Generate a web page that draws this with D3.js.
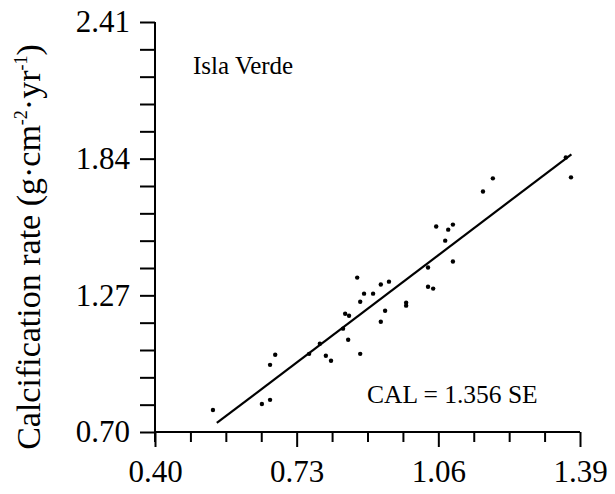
<!DOCTYPE html>
<html>
<head>
<meta charset="utf-8">
<script src="https://cdn.jsdelivr.net/npm/d3@7"></script>
<style>
  body { margin: 0; background: #fff; }
  svg { display: block; }
  text { font-family: "Liberation Serif", "Times New Roman", serif; fill: #000; }
</style>
</head>
<body>
<div id="container"></div>
<script>
/* DATA */
const seX = [0.535, 0.649, 0.668, 0.668, 0.680, 0.759, 0.784, 0.798, 0.810, 0.838,
  0.843, 0.852, 0.850, 0.871, 0.878, 0.878, 0.887, 0.908, 0.926, 0.945,
  0.926, 0.936, 0.985, 0.985, 1.036, 1.036, 1.048, 1.055, 1.083, 1.094,
  1.076, 1.094, 1.164, 1.187, 1.357, 1.369]
const calY = [0.792, 0.817, 0.834, 0.980, 1.022, 1.026, 1.068, 1.018, 0.997, 1.131,
  1.193, 1.185, 1.085, 1.344, 1.243, 1.026, 1.277, 1.277, 1.315, 1.327,
  1.160, 1.206, 1.239, 1.227, 1.386, 1.306, 1.298, 1.557, 1.544, 1.565,
  1.498, 1.411, 1.703, 1.758, 1.845, 1.762]
const xLabels = [0.40, 0.73, 1.06, 1.39]
const yLabels = [0.70, 1.27, 1.84, 2.41]
const slope = 1.356
const fitRange = [0.544, 1.37]
const site = "Isla Verde"

const width = 615, height = 494
const margin = {left: 155, right: 35, top: 22, bottom: 62}

const svg = d3.select("#container")
  .append("svg")
  .attr("width", width)
  .attr("height", height)

const x = d3.scaleLinear()
  .domain([xLabels[0], xLabels[xLabels.length - 1]])
  .range([margin.left, width - margin.right])

const y = d3.scaleLinear()
  .domain([yLabels[0], yLabels[yLabels.length - 1]])
  .range([height - margin.bottom, margin.top])

// 4 minor ticks between labelled ones
const xTicks = d3.range(13).map(i => xLabels[0] + i * (xLabels[1] - xLabels[0]) / 4)
const yTicks = d3.range(16).map(i => yLabels[0] + i * (yLabels[1] - yLabels[0]) / 5)

const isMajor = (v, labels) => labels.some(l => Math.abs(l - v) < 1e-6)

// x axis
const xAxis = svg.append("g")
  .attr("transform", `translate(0,${y(yLabels[0])})`)
  .call(d3.axisBottom(x)
    .tickValues(xTicks)
    .tickSize(10)
    .tickFormat(d => isMajor(d, xLabels) ? d3.format(".2f")(d) : ""))
xAxis.selectAll(".tick line")
  .attr("y2", d => isMajor(d, xLabels) ? 15 : 10)
xAxis.selectAll(".tick text")
  .attr("y", 28)
  .attr("font-size", 31)
  .attr("font-family", "Liberation Serif")

// y axis
const yAxis = svg.append("g")
  .attr("transform", `translate(${x(xLabels[0])},0)`)
  .call(d3.axisLeft(y)
    .tickValues(yTicks)
    .tickSize(15)
    .tickFormat(d => isMajor(d, yLabels) ? d3.format(".2f")(d) : ""))
yAxis.selectAll(".tick text")
  .attr("x", -25)
  .attr("font-size", 31)
  .attr("font-family", "Liberation Serif")

svg.selectAll(".domain").attr("stroke-width", 2).attr("stroke", "#000")
svg.selectAll(".tick line").attr("stroke-width", 2).attr("stroke", "#000")
xAxis.select(".domain").attr("d", `M${x.range()[0]},0H${x.range()[1]}`)
yAxis.select(".domain").attr("d", `M0,${y.range()[0] + 10}V${y.range()[1]}`)

// regression line
svg.append("line")
  .attr("x1", x(fitRange[0]))
  .attr("y1", y(slope * fitRange[0]))
  .attr("x2", x(fitRange[1]))
  .attr("y2", y(slope * fitRange[1]))
  .attr("stroke", "#000")
  .attr("stroke-width", 2.2)

// points
svg.selectAll(".pt")
  .data(seX.map((v, i) => [v, calY[i]]))
  .join("circle")
  .attr("class", "pt")
  .attr("cx", d => x(d[0]))
  .attr("cy", d => y(d[1]))
  .attr("r", 2.2)
  .attr("fill", "#000")

// annotations
svg.append("text")
  .attr("x", 193)
  .attr("y", 74)
  .attr("font-size", 25)
  .text(site)

svg.append("text")
  .attr("x", 367)
  .attr("y", 403)
  .attr("font-size", 25.5)
  .text(`CAL = ${slope} SE`)

// y title
const yTitle = svg.append("text")
  .attr("transform", "translate(40,247) rotate(-90)")
  .attr("text-anchor", "middle")
  .attr("font-size", 34)
yTitle.append("tspan").text("Calcification rate (g·cm")
yTitle.append("tspan").attr("font-size", 18).attr("dy", -13).text("-2")
yTitle.append("tspan").attr("dy", 13).text("·yr")
yTitle.append("tspan").attr("font-size", 18).attr("dy", -13).text("-1")
yTitle.append("tspan").attr("dy", 13).text(")")
</script>
</body>
</html>
